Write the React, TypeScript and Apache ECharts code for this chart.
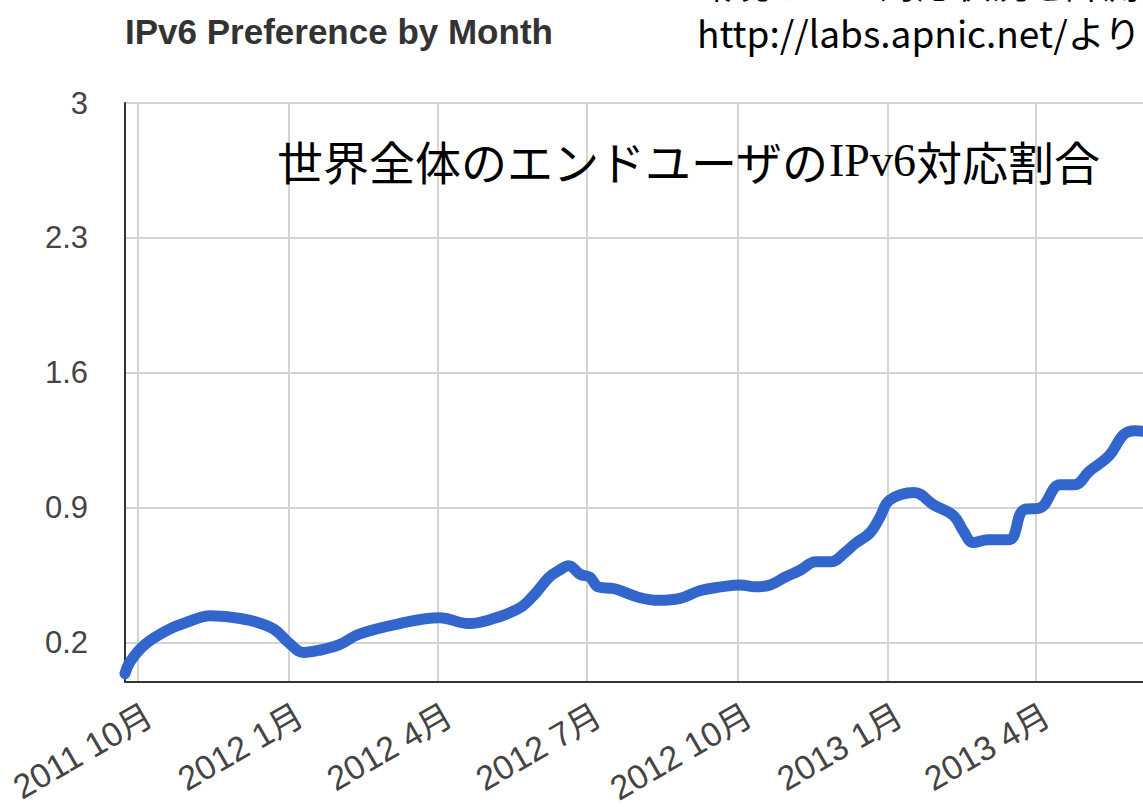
import React, { useEffect, useRef } from "react";
import * as echarts from "echarts";

const ORIGIN = Date.UTC(2011, 9, 1);

const pointDates = [
  "2011-09-23", "2011-09-26", "2011-10-05", "2011-10-20", "2011-11-01", "2011-11-14",
  "2011-11-29", "2011-12-11", "2011-12-23", "2012-01-01", "2012-01-10", "2012-01-19",
  "2012-02-01", "2012-02-13", "2012-03-09", "2012-04-02", "2012-04-20", "2012-05-03",
  "2012-05-21", "2012-05-30", "2012-06-08", "2012-06-14", "2012-06-20", "2012-06-27",
  "2012-07-03", "2012-07-08", "2012-07-18", "2012-08-02", "2012-08-14", "2012-08-27",
  "2012-09-08", "2012-09-21", "2012-10-03", "2012-10-12", "2012-10-21", "2012-10-30",
  "2012-11-08", "2012-11-18", "2012-11-27", "2012-12-06", "2012-12-12", "2012-12-21",
  "2012-12-27", "2013-01-02", "2013-01-17", "2013-01-29", "2013-02-10", "2013-02-16",
  "2013-02-22", "2013-03-03", "2013-03-16", "2013-03-25", "2013-04-04", "2013-04-16",
  "2013-04-25", "2013-05-04", "2013-05-16", "2013-05-25", "2013-06-01", "2013-06-12",
];

const ipv6Values = [
  0.04, 0.10, 0.19, 0.27, 0.31, 0.34,
  0.33, 0.31, 0.27, 0.20, 0.15, 0.16,
  0.19, 0.245, 0.30, 0.33, 0.30, 0.32,
  0.38, 0.45, 0.54, 0.575, 0.60, 0.555,
  0.54, 0.49, 0.48, 0.435, 0.42, 0.43,
  0.47, 0.49, 0.50, 0.49, 0.50, 0.54,
  0.575, 0.62, 0.62, 0.67, 0.715, 0.77,
  0.85, 0.94, 0.98, 0.915, 0.86, 0.78,
  0.72, 0.735, 0.735, 0.89, 0.90, 1.02,
  1.02, 1.09, 1.17, 1.28, 1.30, 1.29,
];

const xTickDates = ["2011-10-01", "2012-01-01", "2012-04-01", "2012-07-01", "2012-10-01", "2013-01-01", "2013-04-01"];
const xTickLabels = ["2011 10月", "2012 1月", "2012 4月", "2012 7月", "2012 10月", "2013 1月", "2013 4月"];
const yTickValues = [0.2, 0.9, 1.6, 2.3, 3];
const yTickLabels = ["0.2", "0.9", "1.6", "2.3", "3"];

// rotated labels end slightly to the right of their gridline in the reference
const LABEL_SHIFT_DAYS = 7;

const toDays = (s: string) => {
  const [y, m, d] = s.split("-").map(Number);
  return Math.round((Date.UTC(y, m - 1, d) - ORIGIN) / 86400000);
};

export default function App() {
  const ref = useRef<HTMLDivElement>(null);
  useEffect(() => {
    if (!ref.current) return;
    const chart = echarts.init(ref.current, null, { renderer: "svg" });
    const xTicks = xTickDates.map(toDays);
    const labelPos = xTicks.map((t) => t + LABEL_SHIFT_DAYS);
    const data = pointDates.map((d, i) => [toDays(d), ipv6Values[i]]);
    const font = "'Liberation Sans', Arial, 'Noto Sans CJK JP', sans-serif";
    chart.setOption({
      animation: false,
      backgroundColor: "#ffffff",
      grid: { left: 125, top: 103, width: 1061, height: 586 },
      xAxis: {
        type: "value",
        min: -8,
        max: 640,
        axisLine: { show: true, onZero: false, lineStyle: { color: "#333333", width: 2 } },
        axisTick: { show: false, customValues: xTicks },
        splitLine: { show: true, lineStyle: { color: "#d4d4d4", width: 2 } },
        axisLabel: {
          customValues: labelPos,
          rotate: 30,
          margin: 31,
          fontSize: 34,
          fontFamily: font,
          color: "#444444",
          formatter: (v: number) => {
            const i = labelPos.indexOf(Math.round(v));
            return i >= 0 ? xTickLabels[i] : "";
          },
        },
      },
      yAxis: {
        type: "value",
        min: 0,
        max: 3,
        axisLine: { show: true, onZero: false, lineStyle: { color: "#333333", width: 2 } },
        axisTick: { show: false, customValues: yTickValues },
        splitLine: { show: true, lineStyle: { color: "#d4d4d4", width: 2 } },
        axisLabel: {
          customValues: yTickValues,
          margin: 37,
          fontSize: 31,
          fontFamily: font,
          color: "#444444",
          formatter: (v: number) => {
            const i = yTickValues.findIndex((t) => Math.abs(t - v) < 1e-6);
            return i >= 0 ? yTickLabels[i] : "";
          },
        },
      },
      series: [
        {
          type: "line",
          data,
          showSymbol: false,
          smooth: 0.4,
          clip: false,
          lineStyle: { color: "#3366cc", width: 11, cap: "round", join: "round" },
          z: 5,
        },
      ],
      graphic: [
        {
          type: "text",
          left: 125,
          top: 14,
          style: {
            text: "IPv6 Preference by Month",
            font: "bold 35px 'Liberation Sans', Arial, sans-serif",
            fill: "#333333",
          },
        },
        {
          type: "text",
          x: 695,
          y: -36,
          style: {
            text: "環境のIPv6対応状況を計測",
            font: "37px 'Noto Sans CJK JP', sans-serif",
            fill: "#000000",
          },
        },
        {
          type: "text",
          x: 697,
          y: 13,
          style: {
            text: "http://labs.apnic.net/より",
            font: "37px 'Noto Sans CJK JP', sans-serif",
            fill: "#000000",
          },
        },
        {
          type: "text",
          x: 277,
          y: 137,
          z: 10,
          style: {
            text: "{a|世界全体のエンドユーザの}{b|IPv6}{a|対応割合}",
            rich: {
              a: { fontSize: 46, fontFamily: "'Noto Sans CJK JP', sans-serif", fill: "#000000" },
              b: { fontSize: 46, fontFamily: "'Liberation Serif', 'Times New Roman', serif", fill: "#000000" },
            },
          },
        },
      ],
    });
    return () => chart.dispose();
  }, []);
  return (
    <div style={{ position: "absolute", left: 0, top: 0, width: 1143, height: 807, overflow: "hidden" }}>
      <div ref={ref} style={{ width: 1200, height: 807 }} />
    </div>
  );
}
